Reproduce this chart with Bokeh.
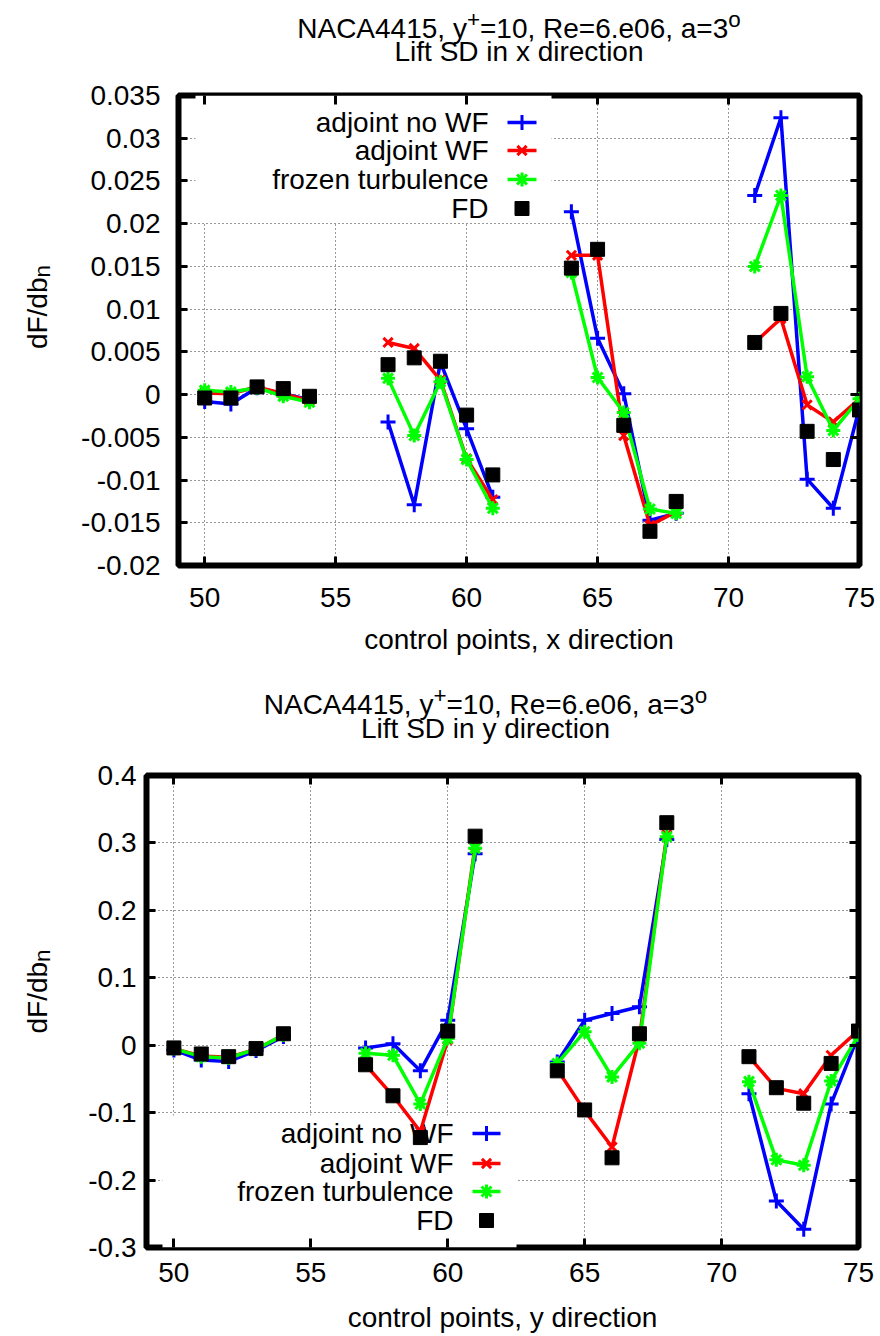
import numpy as np
from bokeh.plotting import figure
from bokeh.layouts import column, row
from bokeh.models import (Range1d, LinearAxis, FixedTicker, CustomJSTickFormatter,
                          Label, BoxAnnotation)
from bokeh.embed import file_html
from bokeh.resources import INLINE

# ---------------------------------------------------------------- data
control_points = [50, 51, 52, 53, 54, 57, 58, 59, 60, 61,
                  64, 65, 66, 67, 68, 71, 72, 73, 74, 75]

series_names = ["adjoint no WF", "adjoint WF", "frozen turbulence", "FD"]

# lift sensitivity derivatives, x direction
x_adjoint_no_wf = [-0.0008, -0.0011, 0.0008, 0.0001, -0.0006,
                   -0.0032, -0.0129, 0.0038, -0.0040, -0.0120,
                   0.0214, 0.0066, 0.0001, -0.0147, -0.0139,
                   0.0233, 0.0324, -0.0099, -0.0133, -0.0015]
x_adjoint_wf = [0.0002, 0.0001, 0.0009, 0.0001, -0.0007,
                0.0061, 0.0054, 0.0017, -0.0075, -0.0123,
                0.0163, 0.0163, -0.0048, -0.0153, -0.0137,
                0.0061, 0.0089, -0.0012, -0.0032, -0.0005]
x_frozen = [0.0005, 0.0003, 0.0008, -0.0002, -0.0009,
            0.0019, -0.0048, 0.0015, -0.0076, -0.0133,
            0.0143, 0.0020, -0.0021, -0.0134, -0.0139,
            0.0150, 0.0233, 0.0021, -0.0042, -0.0005]
x_fd = [-0.0004, -0.0004, 0.0009, 0.0007, -0.0002,
        0.0035, 0.0043, 0.0039, -0.0024, -0.0094,
        0.0148, 0.0170, -0.0036, -0.0160, -0.0125,
        0.0061, 0.0095, -0.0043, -0.0076, -0.0018]

# lift sensitivity derivatives, y direction
y_adjoint_no_wf = [-0.007, -0.022, -0.024, -0.008, 0.013,
                   -0.004, 0.002, -0.038, 0.037, 0.284,
                   -0.025, 0.037, 0.047, 0.057, 0.305,
                   -0.072, -0.231, -0.273, -0.087, 0.015]
y_adjoint_wf = [-0.005, -0.016, -0.018, -0.006, 0.015,
                -0.029, -0.075, -0.128, 0.008, 0.296,
                -0.036, -0.097, -0.151, 0.010, 0.312,
                -0.017, -0.064, -0.072, -0.015, 0.022]
y_frozen = [-0.005, -0.017, -0.019, -0.006, 0.015,
            -0.012, -0.015, -0.087, 0.010, 0.292,
            -0.027, 0.020, -0.047, 0.003, 0.309,
            -0.054, -0.170, -0.178, -0.053, 0.015]
y_fd = [-0.004, -0.013, -0.017, -0.005, 0.017,
        -0.029, -0.075, -0.137, 0.021, 0.310,
        -0.038, -0.096, -0.167, 0.017, 0.330,
        -0.017, -0.063, -0.086, -0.027, 0.021]

x_ticks = [50, 55, 60, 65, 70, 75]
x_limits = (49, 75)
y_ticks_xdir = [-0.02, -0.015, -0.01, -0.005, 0, 0.005, 0.01, 0.015,
                0.02, 0.025, 0.03, 0.035]
y_ticks_ydir = [-0.3, -0.2, -0.1, 0, 0.1, 0.2, 0.3, 0.4]

title_head = "NACA4415, y"
title_sup1 = "+"
title_mid = "=10, Re=6.e06, a=3"
title_sup2 = "o"

# ---------------------------------------------------------------- style
FONT = "Liberation Sans"
FS = 28
SUB = 22.4
W = 880
YLAB_W = 60          # strip holding the rotated y label
STYLES = [("#0000ff", "cross", 15), ("#ff0000", "x", 13),
          ("#00ff00", "asterisk", 14), ("#000000", "square", 14)]

# Arial-compatible advance widths (em) for measuring composed titles
EM = {' ': .278, ',': .278, '.': .278, '=': .584, '+': .584, 'N': .722,
      'A': .667, 'C': .722, 'R': .722, 'e': .556, 'a': .556, 'y': .5,
      'o': .556, 'd': .556, 'F': .611, '/': .278, 'b': .556, 'n': .556}


def text_w(s, size):
    return sum(EM.get(c, .556) for c in s) * size


def label(x, y, text, size=FS, align="left", baseline="alphabetic",
          angle=0.0, level="annotation"):
    return Label(x=x, y=y, text=text, text_align=align, text_baseline=baseline,
                 angle=angle, text_font=FONT, text_font_size=f"{size}px",
                 text_color="black", level=level)


def text_canvas(width, height):
    """Blank canvas measured in pixels (y downwards) for free text."""
    f = figure(width=width, height=height, output_backend="svg",
               toolbar_location=None, title=None,
               x_range=Range1d(0, width), y_range=Range1d(height, 0),
               x_axis_type=None, y_axis_type=None, min_border=0)
    f.outline_line_color = None
    f.background_fill_color = "white"
    f.border_fill_color = "white"
    return f


def title_canvas(height, cx, base1, base2, subtitle):
    f = text_canvas(W, height)
    w_head = text_w(title_head, FS)
    w_sup1 = text_w(title_sup1, SUB)
    w_mid = text_w(title_mid, FS)
    w_sup2 = text_w(title_sup2, SUB)
    start = cx - (w_head + w_sup1 + w_mid + w_sup2) / 2
    p1 = start + w_head
    p2 = p1 + w_sup1 + w_mid
    f.add_layout(label(p1, base1, title_head, align="right"))
    f.add_layout(label(p1, base1 - 9, title_sup1, size=SUB))
    f.add_layout(label(p2, base1, title_mid, align="right"))
    f.add_layout(label(p2, base1 - 9, title_sup2, size=SUB))
    f.add_layout(label(cx, base2, subtitle, align="center"))
    return f


def ylabel_canvas(height, cy):
    f = text_canvas(YLAB_W, height)
    w_main = text_w("dF/db", FS)
    w_sub = text_w("n", SUB)
    junction = cy - (w_main + w_sub) / 2 + w_sub
    f.add_layout(label(37, junction, "dF/db", align="right", angle=np.pi / 2))
    f.add_layout(label(42, junction, "n", size=SUB, angle=np.pi / 2))
    return f


def with_breaks(xs, ys):
    """Insert NaN between non-consecutive control points to split the line."""
    bx, by = [], []
    for i, (a, b) in enumerate(zip(xs, ys)):
        if i and a - xs[i - 1] > 1:
            bx.append(np.nan)
            by.append(np.nan)
        bx.append(a)
        by.append(b)
    return bx, by


def make_panel(values, y_ticks, origin_y, height, frame, xlabel,
               legend_geo, ylab_std, xtick_std, xlab_std):
    """frame and key geometry are given in page pixels."""
    left, top, right, bottom = frame
    fw, fh = right - left, bottom - top
    x0, x1 = x_limits
    y0, y1 = y_ticks[0], y_ticks[-1]

    def dx(px):
        return x0 + (px - left) / fw * (x1 - x0)

    def dy(py):
        return y1 - (py - top) / fh * (y1 - y0)

    pw = W - YLAB_W
    p = figure(width=pw, height=height, output_backend="svg",
               toolbar_location=None, title=None,
               x_range=Range1d(x0, x1), y_range=Range1d(y0, y1),
               min_border_left=left - YLAB_W, min_border_right=W - right,
               min_border_top=top - origin_y,
               min_border_bottom=origin_y + height - bottom)
    p.background_fill_color = "white"
    p.border_fill_color = "white"
    p.outline_line_color = "black"
    p.outline_line_width = 6

    fmt = CustomJSTickFormatter(code="return String(Number(tick.toFixed(4)))")
    blank = CustomJSTickFormatter(code="return ''")

    p.xaxis.ticker = FixedTicker(ticks=x_ticks)
    p.yaxis.ticker = FixedTicker(ticks=y_ticks)
    p.yaxis.formatter = fmt
    p.xaxis.axis_label = xlabel
    p.xaxis.axis_label_standoff = xlab_std
    p.xaxis.major_label_standoff = xtick_std
    p.yaxis.major_label_standoff = ylab_std

    top_ax = LinearAxis(ticker=FixedTicker(ticks=x_ticks), formatter=blank)
    right_ax = LinearAxis(ticker=FixedTicker(ticks=y_ticks), formatter=blank)
    p.add_layout(top_ax, "above")
    p.add_layout(right_ax, "right")

    for ax in p.axis:
        ax.axis_line_color = None
        ax.major_tick_in = 9
        ax.major_tick_out = 0
        ax.major_tick_line_width = 3
        ax.major_tick_line_color = "black"
        ax.minor_tick_line_color = None
        ax.major_label_text_font = FONT
        ax.major_label_text_font_size = f"{FS}px"
        ax.major_label_text_color = "black"
        ax.axis_label_text_font = FONT
        ax.axis_label_text_font_size = f"{FS}px"
        ax.axis_label_text_font_style = "normal"
        ax.axis_label_text_color = "black"
    for ax in (top_ax, right_ax):
        ax.major_label_text_font_size = "0px"
        ax.major_label_standoff = 0

    p.grid.grid_line_color = "black"
    p.grid.grid_line_alpha = 0.8
    p.grid.grid_line_dash = "1 3"
    p.grid.grid_line_width = 1

    # key area: opaque white patch hiding the grid
    g = legend_geo
    p.add_layout(BoxAnnotation(left=dx(g["box"][0]), right=dx(g["box"][1]),
                               top=dy(g["box"][2]), bottom=dy(g["box"][3]),
                               fill_color="white", fill_alpha=1.0,
                               line_color=None, level="underlay"))
    for name, rw in zip(series_names, g["rows"]):
        p.add_layout(label(dx(g["text_right"]), dy(rw), name, align="right",
                           baseline="middle", level="underlay"))

    # data series
    for vals, (color, marker, size) in zip(values, STYLES):
        bx, by = with_breaks(control_points, vals)
        if marker != "square":
            p.line(bx, by, line_color=color, line_width=3.5)
            p.scatter(control_points, vals, marker=marker, size=size,
                      line_color=color, line_width=3)
        else:
            p.scatter(control_points, vals, marker=marker, size=size,
                      fill_color=color, line_color=color)

    # key samples
    sx0, sx1 = g["sample"]
    for rw, (color, marker, size) in zip(g["rows"], STYLES):
        cx, cy = dx((sx0 + sx1) / 2), dy(rw)
        if marker != "square":
            p.line([dx(sx0), dx(sx1)], [cy, cy], line_color=color, line_width=3.5)
            p.scatter([cx], [cy], marker=marker, size=size,
                      line_color=color, line_width=3)
        else:
            p.scatter([cx], [cy], marker=marker, size=size,
                      fill_color=color, line_color=color)
    return p


# ---------------------------------------------------------------- x direction
T1_H, P1_H = 70, 595
top_frame = (178, 95, 859, 565)
title_x = title_canvas(T1_H, (top_frame[0] + top_frame[2]) / 2, 28, 51,
                       "Lift SD in x direction")
plot_x = make_panel(
    [x_adjoint_no_wf, x_adjoint_wf, x_frozen, x_fd], y_ticks_xdir,
    origin_y=T1_H, height=P1_H, frame=top_frame,
    xlabel="control points, x direction",
    legend_geo=dict(box=(195, 551, 95, 222), rows=[122, 150, 179, 208],
                    text_right=488, sample=(507, 536)),
    ylab_std=18, xtick_std=22, xlab_std=14)
ylab_x = ylabel_canvas(P1_H, (top_frame[1] + top_frame[3]) / 2 - T1_H)

# ---------------------------------------------------------------- y direction
T2_H, P2_H = 85, 586
y0_page = T1_H + P1_H
bot_frame = (146, 775, 858, 1247)
title_y = title_canvas(T2_H, 485, 704 - y0_page, 728 - y0_page,
                       "Lift SD in y direction")
plot_y = make_panel(
    [y_adjoint_no_wf, y_adjoint_wf, y_frozen, y_fd], y_ticks_ydir,
    origin_y=y0_page + T2_H, height=P2_H, frame=bot_frame,
    xlabel="control points, y direction",
    legend_geo=dict(box=(162, 516, 1115, 1247), rows=[1133, 1163, 1191, 1220],
                    text_right=453, sample=(472, 500)),
    ylab_std=10, xtick_std=15, xlab_std=17)
ylab_y = ylabel_canvas(P2_H, (bot_frame[1] + bot_frame[3]) / 2 - y0_page - T2_H)

layout = column(title_x, row(ylab_x, plot_x, spacing=0),
                title_y, row(ylab_y, plot_y, spacing=0), spacing=0)
open("out.html", "w").write(file_html(layout, INLINE))
